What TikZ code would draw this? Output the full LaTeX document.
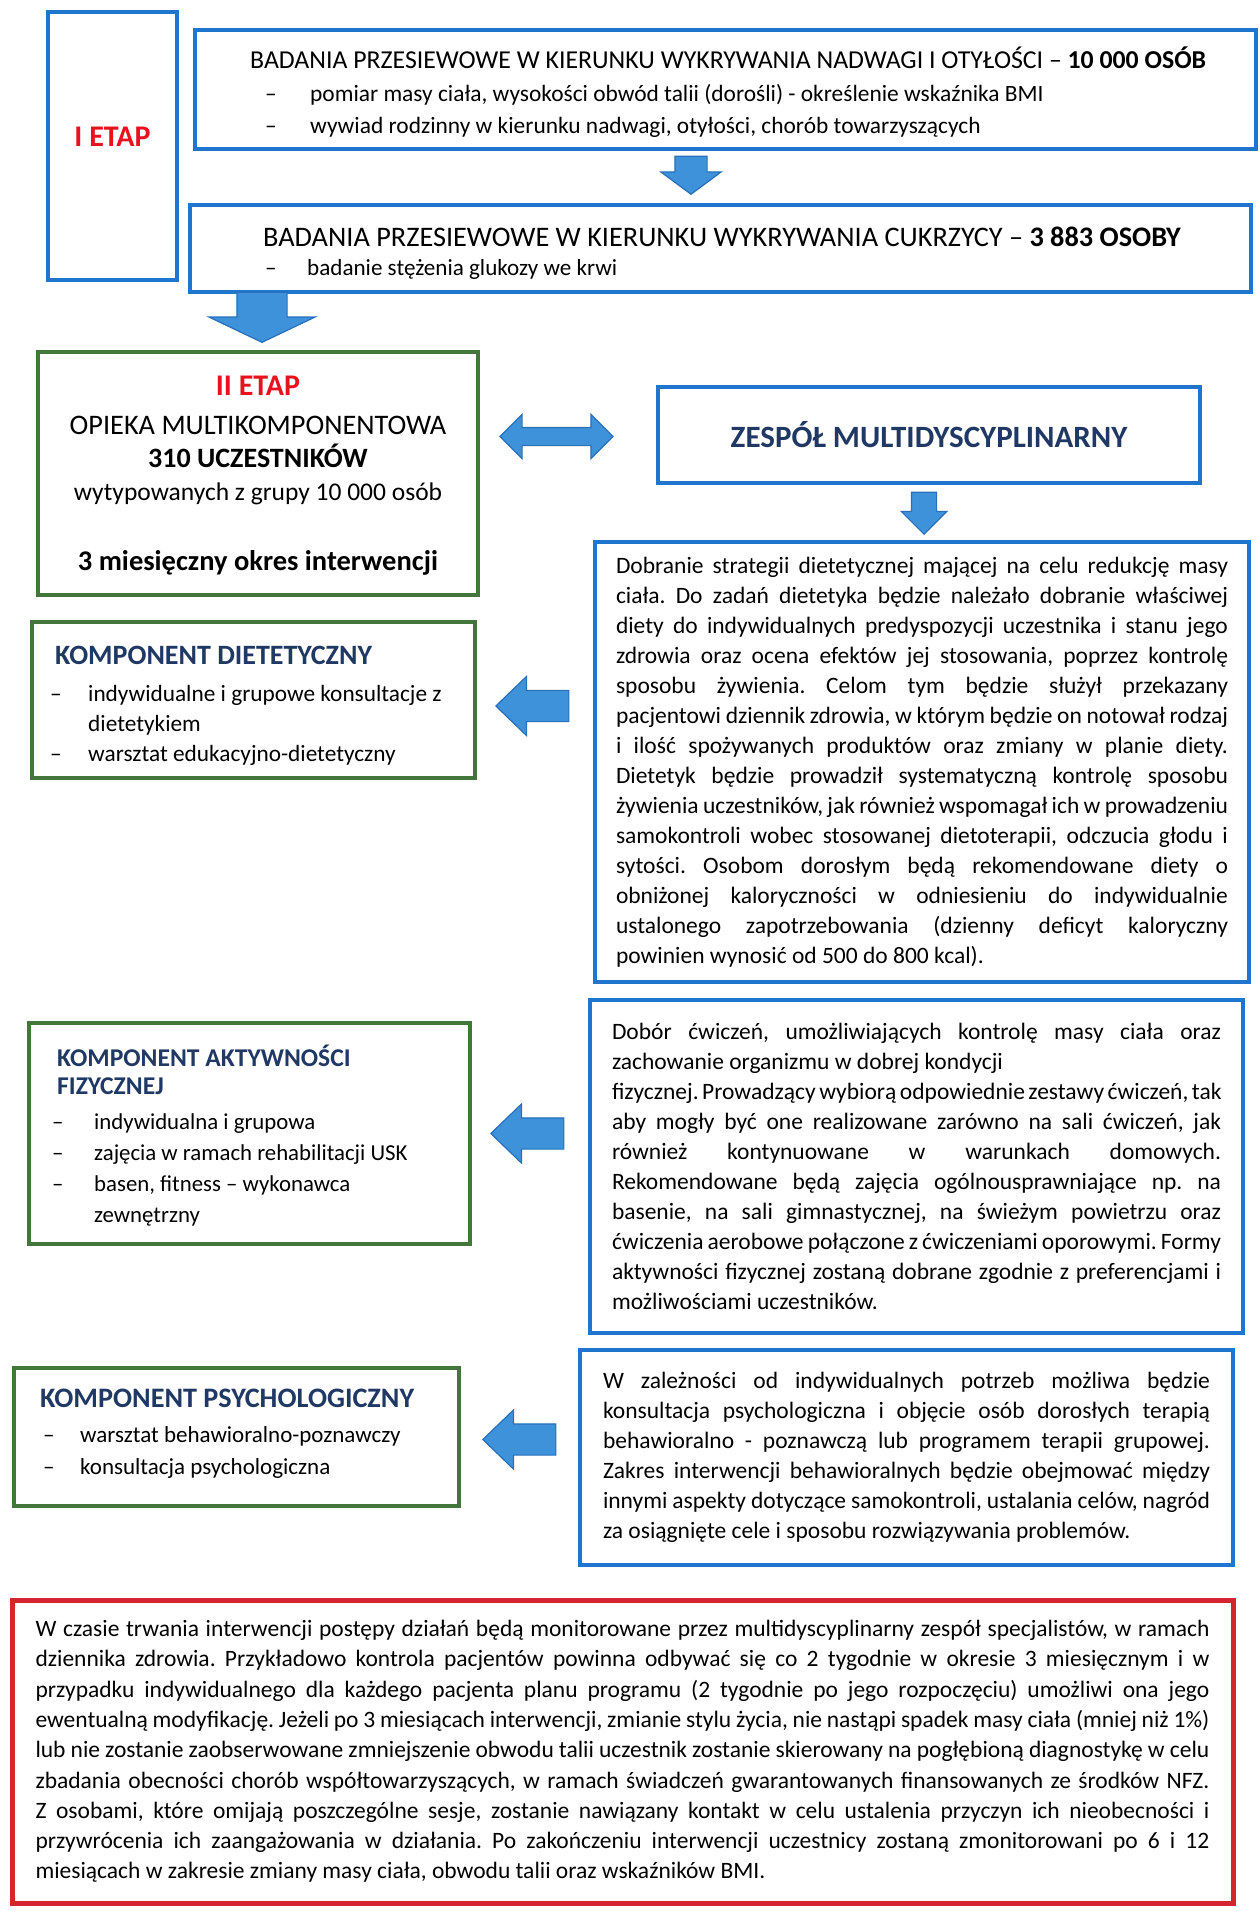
\documentclass[tikz,border=0pt]{standalone}
\usepackage{fontspec}
\setmainfont{Carlito}
\frenchspacing
\usetikzlibrary{shapes.arrows}
\definecolor{boxblue}{RGB}{30,118,206}
\definecolor{boxgreen}{RGB}{66,118,58}
\definecolor{boxred}{RGB}{214,36,48}
\definecolor{arrowblue}{RGB}{62,146,218}
\definecolor{arrowedge}{RGB}{40,112,186}
\definecolor{etapred}{RGB}{232,18,30}
\definecolor{titlenavy}{RGB}{31,56,100}
\newlength{\parw}
\newcommand{\fsz}[2]{\fontsize{#1}{#2}\selectfont}
\newcommand{\dsh}[1]{\makebox[#1][l]{–}}
\newcommand{\jl}[1]{\leavevmode\hbox to \parw{\spaceskip=0pt\xspaceskip=0pt #1}\\}
\newcommand{\lst}[1]{\begin{tabular}[b]{@{}l@{}}#1\end{tabular}}
\tikzset{
    boxframe/.style={rectangle, inner sep=0pt, line width=4pt},
    bluebox/.style={boxframe, draw=boxblue},
    greenbox/.style={boxframe, draw=boxgreen},
    redbox/.style={boxframe, draw=boxred, line width=5pt},
    blockarrow/.style={single arrow, fill=arrowblue, draw=arrowedge, line width=1.2pt,
        single arrow head indent=0pt, anchor=tip},
    downarrow/.style={blockarrow, shape border rotate=270, inner xsep=#1, inner ysep=0pt},
    leftarrow/.style={blockarrow, shape border rotate=180, inner xsep=0pt, inner ysep=15pt,
        minimum height=73pt, minimum width=58pt, single arrow head extend=14pt,
        single arrow tip angle=88},
    para/.style={text width=\parw, align=justify, font=\fsz{23.5}{30}},
    listtxt/.style={anchor=base west, inner sep=0pt, font=\fsz{23.2}{30}},
    heading/.style={anchor=base west, inner sep=0pt, font=\bfseries, text=titlenavy},
}

\begin{document}
\begin{tikzpicture}[x=1pt, y=-1pt]
    \useasboundingbox (0,0) rectangle (1260,1913);
    % Stage I
    \node[bluebox, minimum width=129pt, minimum height=268pt] (etap1) at (112.5,146) {};
    \node[font=\bfseries\fsz{30}{36}, text=etapred] (etap1txt) at (112.5,137) {I ETAP};
    % Screening for overweight
    \node[bluebox, minimum width=1061pt, minimum height=119pt] (nadwaga) at (725.5,89.5) {};
    \node[anchor=base west, inner sep=0pt, font=\fsz{25.8}{32}] (nadwagahead) at (250,69)
        {BADANIA PRZESIEWOWE W KIERUNKU WYKRYWANIA NADWAGI I OTYŁOŚCI – \textbf{10 000 OSÓB}};
    \node[listtxt, font=\fsz{23.4}{32}] (nadwagalist) at (265,134)
        {\lst{\dsh{45pt}pomiar masy ciała, wysokości obwód talii (dorośli) - określenie wskaźnika BMI\\
         \dsh{45pt}wywiad rodzinny w kierunku nadwagi, otyłości, chorób towarzyszących}};
    \node[downarrow=15.5pt, minimum height=38pt, minimum width=59pt,
        single arrow head extend=14pt, single arrow tip angle=107] (arrA) at (691,195) {};
    % Screening for diabetes
    \node[bluebox, minimum width=1061pt, minimum height=87pt] (cukrzyca) at (720.5,248.5) {};
    \node[anchor=base west, inner sep=0pt, font=\fsz{28.3}{34}] (cukrzycahead) at (263,246)
        {BADANIA PRZESIEWOWE W KIERUNKU WYKRYWANIA CUKRZYCY – \textbf{3 883 OSOBY}};
    \node[listtxt, font=\fsz{23.1}{30}] (cukrzycalist) at (265,275)
        {\dsh{42pt}badanie stężenia glukozy we krwi};
    \node[downarrow=24.5pt, minimum height=50pt, minimum width=105pt,
        single arrow head extend=28pt, single arrow tip angle=129] (arrB) at (262,343) {};
    % Stage II
    \node[greenbox, minimum width=440pt, minimum height=243pt] (etap2) at (258,473.5) {};
    \node[anchor=base, font=\bfseries\fsz{30}{36}, text=etapred] (etap2a) at (258,395) {II ETAP};
    \node[anchor=base, font=\fsz{28.3}{34}] (etap2b) at (258,434) {OPIEKA MULTIKOMPONENTOWA};
    \node[anchor=base, font=\bfseries\fsz{28}{34}] (etap2c) at (258,467) {310 UCZESTNIKÓW};
    \node[anchor=base, font=\fsz{25.5}{30}] (etap2d) at (258,500) {wytypowanych z grupy 10 000 osób};
    \node[anchor=base, font=\bfseries\fsz{28.5}{34}] (etap2e) at (258,570) {3 miesięczny okres interwencji};
    \node[double arrow, fill=arrowblue, draw=arrowedge, line width=1.2pt, inner xsep=0pt, inner ysep=8.5pt,
        minimum height=113pt, minimum width=43pt, double arrow head extend=13pt,
        double arrow tip angle=90, double arrow head indent=0pt] (arrC) at (556.5,436.5) {};
    % Team
    \node[bluebox, minimum width=542pt, minimum height=96pt, font=\bfseries\fsz{31}{36},
        text=titlenavy] (zespol) at (929,435) {ZESPÓŁ MULTIDYSCYPLINARNY};
    \node[downarrow=12pt, minimum height=42pt, minimum width=44pt,
        single arrow head extend=10pt, single arrow tip angle=90] (arrE) at (924,535) {};
    % Diet
    \setlength{\parw}{612pt}
    \node[bluebox, minimum width=654pt, minimum height=440pt, para] (dieta) at (922,762) {%
        \jl{Dobranie strategii dietetycznej mającej na celu redukcję masy}
        \jl{ciała. Do zadań dietetyka będzie należało dobranie właściwej}
        \jl{diety do indywidualnych predyspozycji uczestnika i stanu jego}
        \jl{zdrowia oraz ocena efektów jej stosowania, poprzez kontrolę}
        \jl{sposobu żywienia. Celom tym będzie służył przekazany}
        \jl{pacjentowi dziennik zdrowia, w którym będzie on notował rodzaj}
        \jl{i ilość spożywanych produktów oraz zmiany w planie diety.}
        \jl{Dietetyk będzie prowadził systematyczną kontrolę sposobu}
        \jl{żywienia uczestników, jak również wspomagał ich w prowadzeniu}
        \jl{samokontroli wobec stosowanej dietoterapii, odczucia głodu i}
        \jl{sytości. Osobom dorosłym będą rekomendowane diety o}
        \jl{obniżonej kaloryczności w odniesieniu do indywidualnie}
        \jl{ustalonego zapotrzebowania (dzienny deficyt kaloryczny}
        powinien wynosić od 500 do 800 kcal).};
    \node[greenbox, minimum width=443pt, minimum height=156pt] (kdieta) at (253.5,700) {};
    \node[heading, font=\bfseries\fsz{28}{32}] (kdietahead) at (55,664) {KOMPONENT DIETETYCZNY};
    \node[listtxt, font=\fsz{23.3}{30}] (kdietalist) at (50,761)
        {\lst{\dsh{38pt}indywidualne i grupowe konsultacje z\\
         \hspace*{38pt}dietetykiem\\
         \dsh{38pt}warsztat edukacyjno-dietetyczny}};
    \node[leftarrow] (arrF) at (495,706) {};
    % Physical activity
    \setlength{\parw}{609pt}
    \node[bluebox, minimum width=653pt, minimum height=333pt, para] (aktyw) at (916.5,1166.5) {%
        \jl{Dobór ćwiczeń, umożliwiających kontrolę masy ciała oraz}
        zachowanie organizmu w dobrej kondycji\\
        \jl{fizycznej. Prowadzący wybiorą odpowiednie zestawy ćwiczeń, tak}
        \jl{aby mogły być one realizowane zarówno na sali ćwiczeń, jak}
        \jl{również kontynuowane w warunkach domowych.}
        \jl{Rekomendowane będą zajęcia ogólnousprawniające np. na}
        \jl{basenie, na sali gimnastycznej, na świeżym powietrzu oraz}
        \jl{ćwiczenia aerobowe połączone z ćwiczeniami oporowymi. Formy}
        \jl{aktywności fizycznej zostaną dobrane zgodnie z preferencjami i}
        możliwościami uczestników.};
    \node[greenbox, minimum width=441pt, minimum height=221pt] (kaktyw) at (249.5,1133.5) {};
    \node[heading, font=\bfseries\fsz{25.6}{28}] (kaktywhead) at (57,1094)
        {\lst{KOMPONENT AKTYWNOŚCI\\FIZYCZNEJ}};
    \node[listtxt, font=\fsz{22.8}{31}] (kaktywlist) at (52,1222)
        {\lst{\dsh{42pt}indywidualna i grupowa\\
         \dsh{42pt}zajęcia w ramach rehabilitacji USK\\
         \dsh{42pt}basen, fitness – wykonawca\\
         \hspace*{42pt}zewnętrzny}};
    \node[leftarrow] (arrG) at (490,1133.5) {};
    % Psychology
    \setlength{\parw}{607pt}
    \node[bluebox, minimum width=653pt, minimum height=215pt, para] (psych) at (906.5,1457.5) {%
        \jl{W zależności od indywidualnych potrzeb możliwa będzie}
        \jl{konsultacja psychologiczna i objęcie osób dorosłych terapią}
        \jl{behawioralno - poznawczą lub programem terapii grupowej.}
        \jl{Zakres interwencji behawioralnych będzie obejmować między}
        \jl{innymi aspekty dotyczące samokontroli, ustalania celów, nagród}
        za osiągnięte cele i sposobu rozwiązywania problemów.};
    \node[greenbox, minimum width=445pt, minimum height=138pt] (kpsych) at (236.5,1437) {};
    \node[heading, font=\bfseries\fsz{28.2}{32}] (kpsychhead) at (40,1407) {KOMPONENT PSYCHOLOGICZNY};
    \node[listtxt, font=\fsz{23}{32}] (kpsychlist) at (43,1474)
        {\lst{\dsh{37pt}warsztat behawioralno-poznawczy\\
         \dsh{37pt}konsultacja psychologiczna}};
    \node[leftarrow] (arrH) at (482,1439.5) {};
    % Monitoring
    \setlength{\parw}{1174pt}
    \node[redbox, minimum width=1221pt, minimum height=303pt, para,
        font=\fsz{23.5}{30.3}] (monitor) at (622.5,1751.5) {%
        \jl{W czasie trwania interwencji postępy działań będą monitorowane przez multidyscyplinarny zespół specjalistów, w ramach}
        \jl{dziennika zdrowia. Przykładowo kontrola pacjentów powinna odbywać się co 2 tygodnie w okresie 3 miesięcznym i w}
        \jl{przypadku indywidualnego dla każdego pacjenta planu programu (2 tygodnie po jego rozpoczęciu) umożliwi ona jego}
        \jl{ewentualną modyfikację. Jeżeli po 3 miesiącach interwencji, zmianie stylu życia, nie nastąpi spadek masy ciała (mniej niż 1\%)}
        \jl{lub nie zostanie zaobserwowane zmniejszenie obwodu talii uczestnik zostanie skierowany na pogłębioną diagnostykę w celu}
        \jl{zbadania obecności chorób współtowarzyszących, w ramach świadczeń gwarantowanych finansowanych ze środków NFZ.}
        \jl{Z osobami, które omijają poszczególne sesje, zostanie nawiązany kontakt w celu ustalenia przyczyn ich nieobecności i}
        \jl{przywrócenia ich zaangażowania w działania. Po zakończeniu interwencji uczestnicy zostaną zmonitorowani po 6 i 12}
        miesiącach w zakresie zmiany masy ciała, obwodu talii oraz wskaźników BMI.};
\end{tikzpicture}
\end{document}
